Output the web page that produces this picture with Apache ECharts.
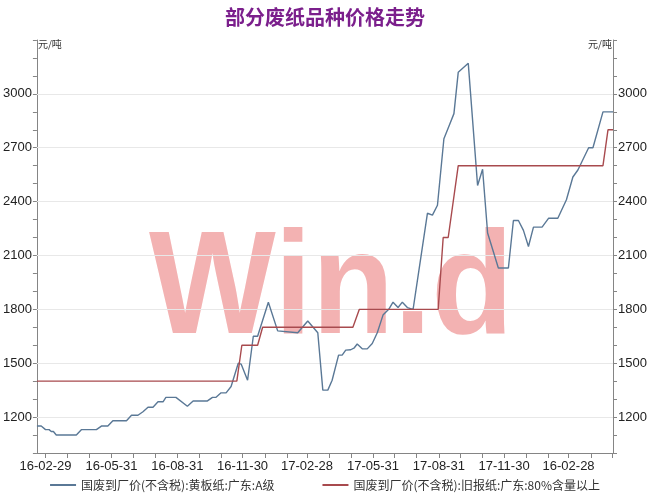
<!DOCTYPE html>
<html><head><meta charset="utf-8">
<script src="https://cdn.jsdelivr.net/npm/echarts@6/dist/echarts.min.js"></script>
<style>html,body{margin:0;padding:0;background:#fff}#c{width:650px;height:500px}</style>
</head><body><div id="c"></div>
<script>
const chartTitle = '部分废纸品种价格走势';
const seriesNames = ['国废到厂价(不含税):黄板纸:广东:A级', '国废到厂价(不含税):旧报纸:广东:80%含量以上'];
const unitLabel = '元/吨';

const blueDates = ['2016-02-17','2016-02-23','2016-02-29','2016-03-05','2016-03-08','2016-03-11','2016-03-15','2016-04-12','2016-04-19','2016-05-10','2016-05-17','2016-05-26','2016-06-02','2016-06-21','2016-06-28','2016-07-07','2016-07-14','2016-07-21','2016-07-28','2016-08-04','2016-08-11','2016-08-15','2016-08-29','2016-09-14','2016-09-22','2016-10-12','2016-10-19','2016-10-24','2016-10-31','2016-11-07','2016-11-14','2016-11-24','2016-11-28','2016-12-07','2016-12-15','2016-12-21','2017-01-05','2017-01-18','2017-01-20','2017-02-15','2017-03-01','2017-03-15','2017-03-22','2017-03-29','2017-04-04','2017-04-13','2017-04-18','2017-04-23','2017-04-30','2017-05-05','2017-05-09','2017-05-16','2017-05-23','2017-05-30','2017-06-06','2017-06-14','2017-06-22','2017-06-28','2017-07-05','2017-07-11','2017-07-18','2017-07-26','2017-08-15','2017-08-22','2017-08-29','2017-09-07','2017-09-14','2017-09-21','2017-09-27','2017-10-11','2017-10-24','2017-10-31','2017-11-07','2017-11-22','2017-12-06','2017-12-13','2017-12-20','2017-12-27','2018-01-03','2018-01-10','2018-01-22','2018-01-31','2018-02-13','2018-02-25','2018-03-06','2018-03-13','2018-03-15','2018-03-28','2018-04-03','2018-04-17','2018-05-01'];
const blueValues = [1150,1150,1130,1130,1120,1120,1100,1100,1130,1130,1150,1150,1180,1180,1210,1210,1230,1255,1255,1285,1285,1310,1310,1260,1290,1290,1310,1310,1335,1335,1370,1500,1495,1405,1650,1650,1840,1680,1670,1670,1735,1670,1350,1350,1405,1545,1545,1573,1575,1586,1607,1580,1580,1610,1670,1768,1800,1840,1810,1840,1810,1800,2335,2325,2380,2750,2820,2890,3120,3170,2490,2580,2225,2030,2030,2295,2295,2240,2150,2258,2258,2307,2307,2410,2537,2576,2585,2700,2700,2900,2900];

const redDates = ['2016-02-17','2016-11-22','2016-11-29','2016-12-21','2016-12-28','2017-05-03','2017-05-12','2017-08-30','2017-09-06','2017-09-13','2017-09-27','2018-04-17','2018-04-24','2018-05-01'];
const redValues = [1400,1400,1600,1600,1700,1700,1800,1800,2200,2200,2600,2600,2800,2800];

const xTickDates = ['2016-02-29','2016-05-31','2016-08-31','2016-11-30','2017-02-28','2017-05-31','2017-08-31','2017-11-30','2018-02-28'];
const xTickLabels = ['16-02-29','16-05-31','16-08-31','16-11-30','17-02-28','17-05-31','17-08-31','17-11-30','16-02-28'];
const xRange = ['2016-02-17','2018-05-01'];
const yTickLabels = [1200,1500,1800,2100,2400,2700,3000];
const yRange = [1000, 3300];

function ts(s){ const p = s.split('-').map(Number); return Date.UTC(p[0], p[1]-1, p[2]); }
const xTickTimes = xTickDates.map(ts);
const monthTicks = [];
for (let y = 2016, m = 1; y < 2018 || (y === 2018 && m <= 3); ) {
  monthTicks.push(Date.UTC(y, m + 1, 0));
  m++; if (m > 11) { m = 0; y++; }
}
const yMinorTicks = [];
for (let v = yRange[0]; v <= yRange[1]; v += 100) yMinorTicks.push(v);

const axisColor = '#858585';
const labelColor = '#222';
const numFont = 'Liberation Sans';
const cjkFont = 'Noto Sans CJK SC';

function yAxisDef(pos) {
  return {
    type: 'value', position: pos, min: yRange[0], max: yRange[1],
    name: unitLabel, nameLocation: 'end', nameGap: -9,
    nameTextStyle: { align: pos === 'left' ? 'left' : 'right', fontSize: 10, color: '#333', fontFamily: cjkFont, padding: pos === 'left' ? [0,0,0,1] : [0,1,0,0] },
    axisLine: { show: true, lineStyle: { color: axisColor, width: 1 } },
    axisTick: { show: true, customValues: yMinorTicks, length: 4, lineStyle: { color: axisColor } },
    axisLabel: { customValues: yTickLabels, fontSize: 13, color: labelColor, fontFamily: numFont, margin: 5,
      formatter: function (v) { return String(v); } },
    splitLine: { show: false }
  };
}

const chart = echarts.init(document.getElementById('c'), null, { renderer: 'canvas' });
chart.setOption({
  animation: false,
  backgroundColor: '#fff',
  title: { text: chartTitle, left: 'center', top: 2, textStyle: { color: '#7b1f8c', fontSize: 20, fontWeight: 'bold', fontFamily: cjkFont } },
  grid: { left: 36, right: 37, top: 40, bottom: 47 },
  graphic: [{ type: 'text', left: 149, top: 220, z: -10, silent: true, scaleX: 0.92,
    style: { text: 'Win.d', font: 'bold 146px "Liberation Sans"', fill: '#f3b2b2' } }],
  legend: { bottom: 4, left: 'center', icon: 'rect', itemWidth: 26, itemHeight: 2, itemGap: 48,
    textStyle: { fontSize: 12, color: '#333', fontFamily: cjkFont }, data: seriesNames },
  xAxis: {
    type: 'value', min: ts(xRange[0]), max: ts(xRange[1]),
    axisLine: { show: true, onZero: false, lineStyle: { color: axisColor } },
    axisTick: { show: true, customValues: monthTicks, length: 5, lineStyle: { color: axisColor } },
    axisLabel: { customValues: xTickTimes, margin: 7, fontSize: 13, color: labelColor, fontFamily: numFont, hideOverlap: false,
      formatter: function (v) { const i = xTickTimes.indexOf(v); return i >= 0 ? xTickLabels[i] : ''; } },
    splitLine: { show: false }
  },
  yAxis: [yAxisDef('left'), yAxisDef('right')],
  series: [
    { name: seriesNames[0], type: 'line', symbol: 'none', yAxisIndex: 0, z: 3,
      data: blueDates.map((d, i) => [ts(d), blueValues[i]]),
      lineStyle: { color: '#5a7896', width: 1.4 }, itemStyle: { color: '#5a7896' },
      markLine: { silent: true, symbol: 'none', z: 1, label: { show: false }, animation: false,
        lineStyle: { color: '#e8e8e8', width: 1, type: 'solid' },
        data: yTickLabels.map(v => ({ yAxis: v })) } },
    { name: seriesNames[1], type: 'line', symbol: 'none', yAxisIndex: 0, z: 3,
      data: redDates.map((d, i) => [ts(d), redValues[i]]),
      lineStyle: { color: '#a84a4e', width: 1.4 }, itemStyle: { color: '#a84a4e' } }
  ]
});
</script></body></html>
